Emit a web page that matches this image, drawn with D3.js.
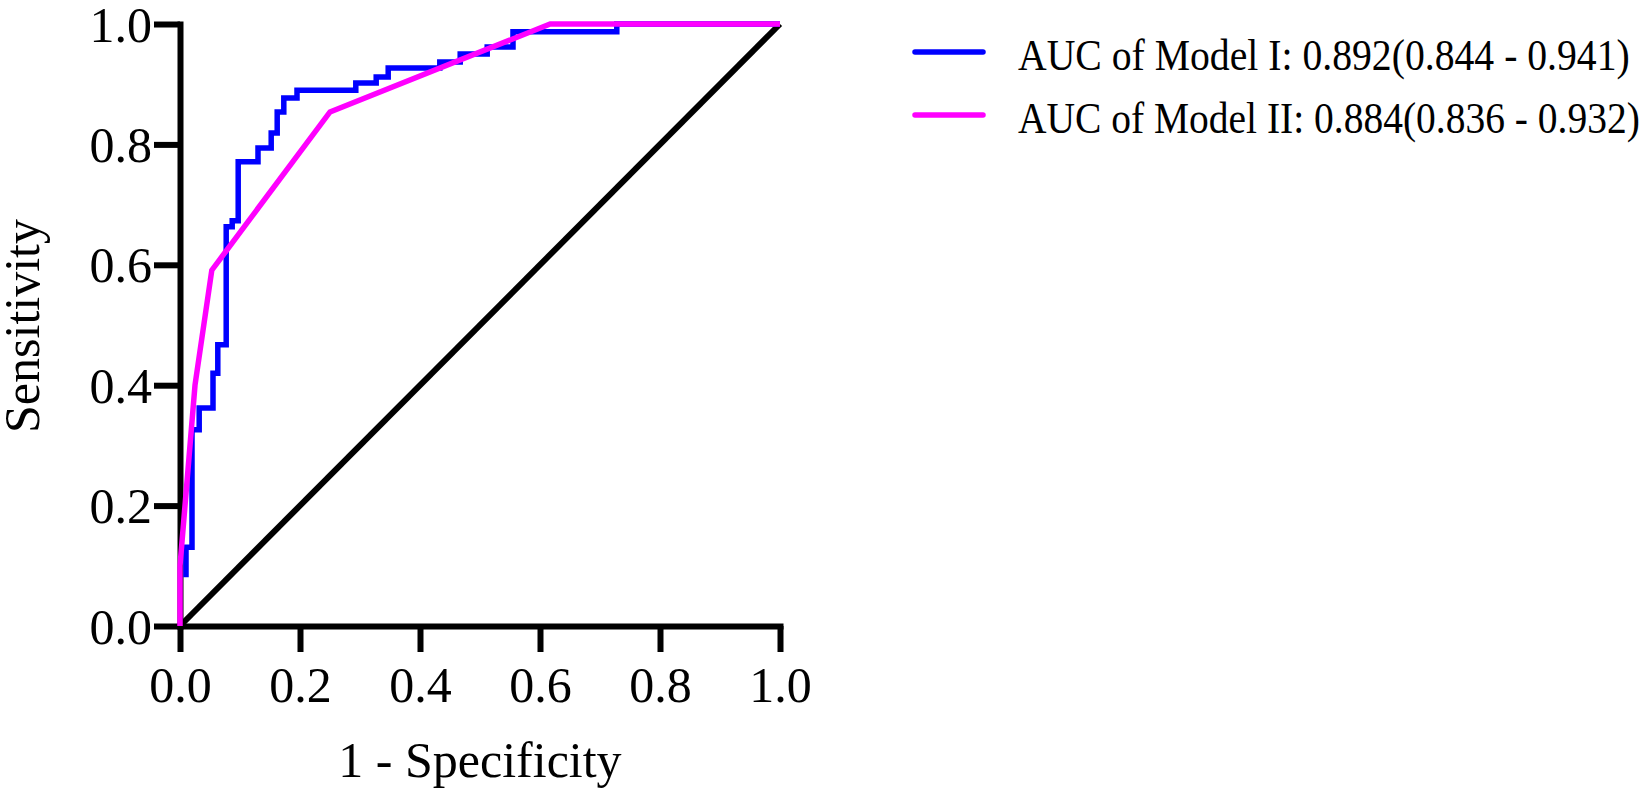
<!DOCTYPE html>
<html>
<head>
<meta charset="utf-8">
<script src="https://cdn.jsdelivr.net/npm/d3@7"></script>
<style>
  body { margin: 0; background: #fff; }
  text { font-family: "Liberation Serif", "Times New Roman", serif; fill: #000; }
</style>
</head>
<body>
<script>
// ROC corner points
const fprModel1 = [0.010, 0.020, 0.032, 0.055, 0.063, 0.077, 0.087, 0.097, 0.130, 0.152, 0.162,
                   0.173, 0.195, 0.293, 0.327, 0.347, 0.433, 0.467, 0.512, 0.555, 0.728, 1.000];
const tprModel1 = [0.081, 0.131, 0.326, 0.362, 0.420, 0.467, 0.663, 0.673, 0.771, 0.794, 0.819,
                   0.854, 0.877, 0.890, 0.902, 0.912, 0.927, 0.937, 0.950, 0.962, 0.987, 1.000];
const fprModel2 = [0, 0, 0.025, 0.053, 0.250, 0.617, 1.0];
const tprModel2 = [0, 0.10, 0.400, 0.591, 0.854, 1.000, 1.0];
const diagX = [0, 1];
const diagY = [0, 1];
const tickValues = [0, 0.2, 0.4, 0.6, 0.8, 1.0];
const legendLabels = ["AUC of Model I: 0.892(0.844 - 0.941)", "AUC of Model II: 0.884(0.836 - 0.932)"];
const seriesColors = ["#0000ff", "#ff00ff"];

const width = 1647, height = 798;

const svg = d3.select('body').append('svg')
  .attr('width', width)
  .attr('height', height);

const x = d3.scaleLinear().domain([0, 1]).range([180, 780]);
const y = d3.scaleLinear().domain([0, 1]).range([626, 24]);

// axes
const xAxis = svg.append('g')
  .attr('transform', `translate(0,${y(0)})`)
  .call(d3.axisBottom(x).tickValues(tickValues).tickSize(26).tickSizeOuter(0)
    .tickPadding(14).tickFormat(d3.format('.1f')));
const yAxis = svg.append('g')
  .attr('transform', `translate(${x(0)},0)`)
  .call(d3.axisLeft(y).tickValues(tickValues).tickSize(26).tickSizeOuter(0)
    .tickPadding(2).tickFormat(d3.format('.1f')));

[xAxis, yAxis].forEach(g => {
  g.select('.domain').attr('stroke', '#000').attr('stroke-width', 6).attr('stroke-linecap', 'square');
  g.selectAll('.tick line').attr('stroke', '#000').attr('stroke-width', 6);
  g.selectAll('.tick text').attr('font-size', 50)
    .style('font-family', '"Liberation Serif", "Times New Roman", serif');
});
yAxis.selectAll('.tick text').attr('dy', '0.34em');

// reference diagonal
svg.append('path')
  .datum(d3.zip(diagX, diagY))
  .attr('d', d3.line().x(d => x(d[0])).y(d => y(d[1])))
  .attr('fill', 'none')
  .attr('stroke', '#000')
  .attr('stroke-width', 6);

// Model I (step curve)
svg.append('path')
  .datum(d3.zip(fprModel1, tprModel1))
  .attr('d', d3.line().x(d => x(d[0])).y(d => y(d[1])).curve(d3.curveStepBefore))
  .attr('fill', 'none')
  .attr('stroke', seriesColors[0])
  .attr('stroke-width', 5.5);

// Model II
svg.append('path')
  .datum(d3.zip(fprModel2, tprModel2))
  .attr('d', d3.line().x(d => x(d[0])).y(d => y(d[1])))
  .attr('fill', 'none')
  .attr('stroke', seriesColors[1])
  .attr('stroke-width', 5.5);

// axis titles
svg.append('text')
  .attr('x', 480)
  .attr('y', 777)
  .attr('text-anchor', 'middle')
  .attr('font-size', 50)
  .text('1 - Specificity');

svg.append('text')
  .attr('transform', 'translate(39,326) rotate(-90)')
  .attr('text-anchor', 'middle')
  .attr('font-size', 50)
  .text('Sensitivity');

// legend (text is horizontally condensed in the original)
const legendWidths = [612, 622];
const legend = svg.append('g');
legendLabels.forEach((label, i) => {
  const ly = 52 + i * 63;
  legend.append('line')
    .attr('x1', 915).attr('x2', 983)
    .attr('y1', ly).attr('y2', ly)
    .attr('stroke', seriesColors[i])
    .attr('stroke-width', 5.5)
    .attr('stroke-linecap', 'round');
  const t = legend.append('text')
    .attr('font-size', 44)
    .text(label);
  const sx = legendWidths[i] / t.node().getComputedTextLength();
  t.attr('transform', `translate(1018,${ly + 18}) scale(${sx},1)`);
});
</script>
</body>
</html>
